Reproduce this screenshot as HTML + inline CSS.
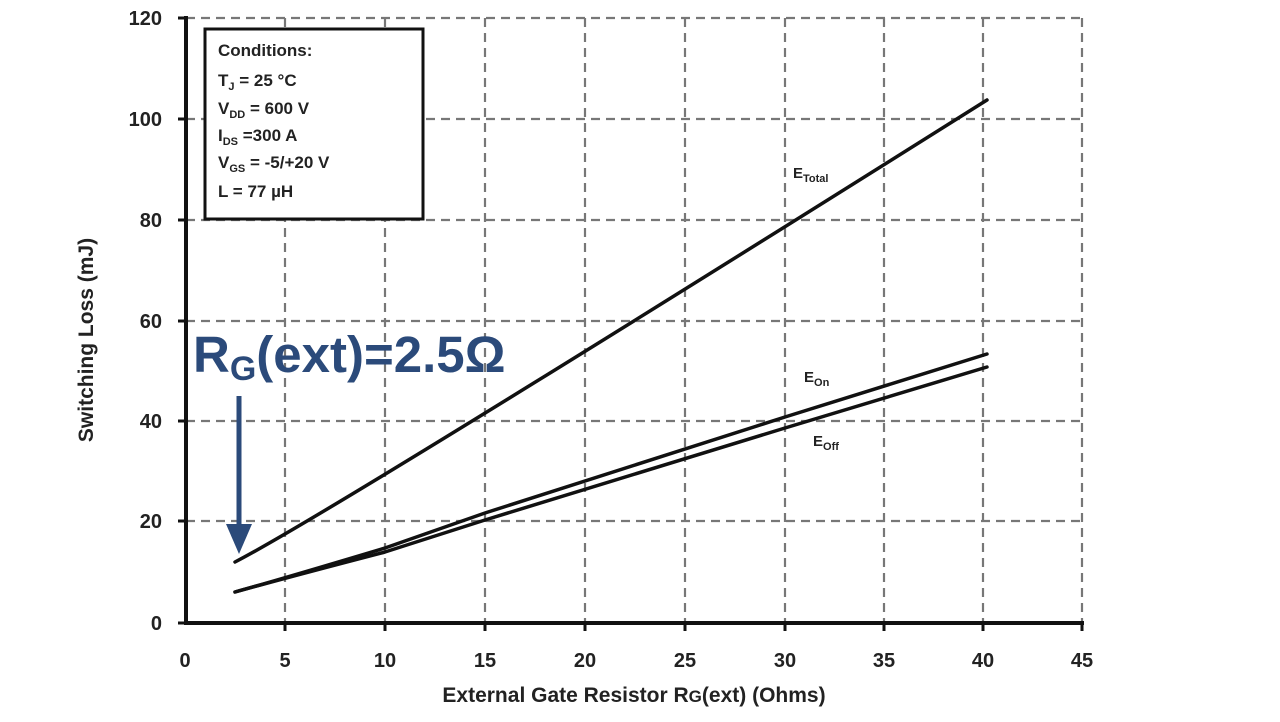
<!DOCTYPE html>
<html><head><meta charset="utf-8"><style>
html,body{margin:0;padding:0;background:#fff;}
svg{display:block;font-family:"Liberation Sans",sans-serif;font-weight:bold;}
</style></head><body>
<svg width="1280" height="722" viewBox="0 0 1280 722" xmlns="http://www.w3.org/2000/svg">
<g stroke="#777" stroke-width="2.2" stroke-dasharray="9,6" fill="none">
<line x1="285" y1="18" x2="285" y2="623"/><line x1="385" y1="18" x2="385" y2="623"/>
<line x1="485" y1="18" x2="485" y2="623"/><line x1="585" y1="18" x2="585" y2="623"/>
<line x1="685" y1="18" x2="685" y2="623"/><line x1="785" y1="18" x2="785" y2="623"/>
<line x1="884" y1="18" x2="884" y2="623"/><line x1="983" y1="18" x2="983" y2="623"/>
<line x1="1082" y1="18" x2="1082" y2="623"/>
<line x1="186" y1="18" x2="1082" y2="18"/><line x1="186" y1="119" x2="1082" y2="119"/>
<line x1="186" y1="220" x2="1082" y2="220"/><line x1="186" y1="321" x2="1082" y2="321"/>
<line x1="186" y1="421" x2="1082" y2="421"/><line x1="186" y1="521" x2="1082" y2="521"/>
</g>
<g stroke="#111" stroke-width="4" fill="none">
<line x1="186" y1="16" x2="186" y2="625"/>
<line x1="184" y1="623" x2="1084" y2="623"/>
</g>
<g stroke="#111" stroke-width="3">
<line x1="178" y1="18" x2="186" y2="18"/><line x1="178" y1="119" x2="186" y2="119"/><line x1="178" y1="220" x2="186" y2="220"/><line x1="178" y1="321" x2="186" y2="321"/><line x1="178" y1="421" x2="186" y2="421"/><line x1="178" y1="521" x2="186" y2="521"/><line x1="178" y1="623" x2="186" y2="623"/>
<line x1="285" y1="623" x2="285" y2="631"/><line x1="385" y1="623" x2="385" y2="631"/><line x1="485" y1="623" x2="485" y2="631"/><line x1="585" y1="623" x2="585" y2="631"/><line x1="685" y1="623" x2="685" y2="631"/><line x1="785" y1="623" x2="785" y2="631"/><line x1="884" y1="623" x2="884" y2="631"/><line x1="983" y1="623" x2="983" y2="631"/><line x1="1082" y1="623" x2="1082" y2="631"/>
</g>
<g font-size="20" fill="#222" text-anchor="end">
<text x="162" y="25">120</text><text x="162" y="126">100</text><text x="162" y="227">80</text><text x="162" y="328">60</text><text x="162" y="428">40</text><text x="162" y="528">20</text><text x="162" y="630">0</text>
</g>
<g font-size="20" fill="#222" text-anchor="middle">
<text x="185" y="667">0</text><text x="285" y="667">5</text><text x="385" y="667">10</text><text x="485" y="667">15</text><text x="585" y="667">20</text><text x="685" y="667">25</text><text x="785" y="667">30</text><text x="884" y="667">35</text><text x="983" y="667">40</text><text x="1082" y="667">45</text>
</g>
<text x="634" y="702" font-size="21" fill="#222" text-anchor="middle">External Gate Resistor R<tspan font-size="17">G</tspan>(ext) (Ohms)</text>
<text transform="translate(93,340) rotate(-90)" font-size="21" fill="#222" text-anchor="middle">Switching Loss (mJ)</text>
<g stroke="#111" stroke-width="3.5" fill="none" stroke-linecap="round">
<path d="M235,562 Q330,513 987,100"/>
<path d="M235,592 Q285,578 385,548 L485,513 L785,417 L987,354"/>
<path d="M235,592 Q285,578 385,552 L485,520 L785,428 L987,367"/>
</g>
<rect x="205" y="29" width="218" height="190" fill="#fff" stroke="#111" stroke-width="3"/>
<g font-size="17" fill="#222">
<text x="218" y="56">Conditions:</text>
<text x="218" y="86">T<tspan font-size="11" dy="4">J</tspan><tspan dy="-4"> = 25 °C</tspan></text>
<text x="218" y="114">V<tspan font-size="11" dy="4">DD</tspan><tspan dy="-4"> = 600 V</tspan></text>
<text x="218" y="141">I<tspan font-size="11" dy="4">DS</tspan><tspan dy="-4"> =300 A</tspan></text>
<text x="218" y="168">V<tspan font-size="11" dy="4">GS</tspan><tspan dy="-4"> = -5/+20 V</tspan></text>
<text x="218" y="197">L = 77 µH</text>
</g>
<g font-size="15" fill="#222">
<text x="793" y="178">E<tspan font-size="11" dy="4">Total</tspan></text>
<text x="804" y="382">E<tspan font-size="11" dy="4">On</tspan></text>
<text x="813" y="446">E<tspan font-size="11" dy="4">Off</tspan></text>
</g>
<text x="193" y="372" font-size="51" fill="#2b4a7a">R<tspan font-size="34" dy="8">G</tspan><tspan dy="-8">(ext)=2.5Ω</tspan></text>
<line x1="239" y1="396" x2="239" y2="528" stroke="#2b4a7a" stroke-width="5"/>
<polygon points="226,524 252,524 239,554" fill="#2b4a7a"/>
</svg>
</body></html>
